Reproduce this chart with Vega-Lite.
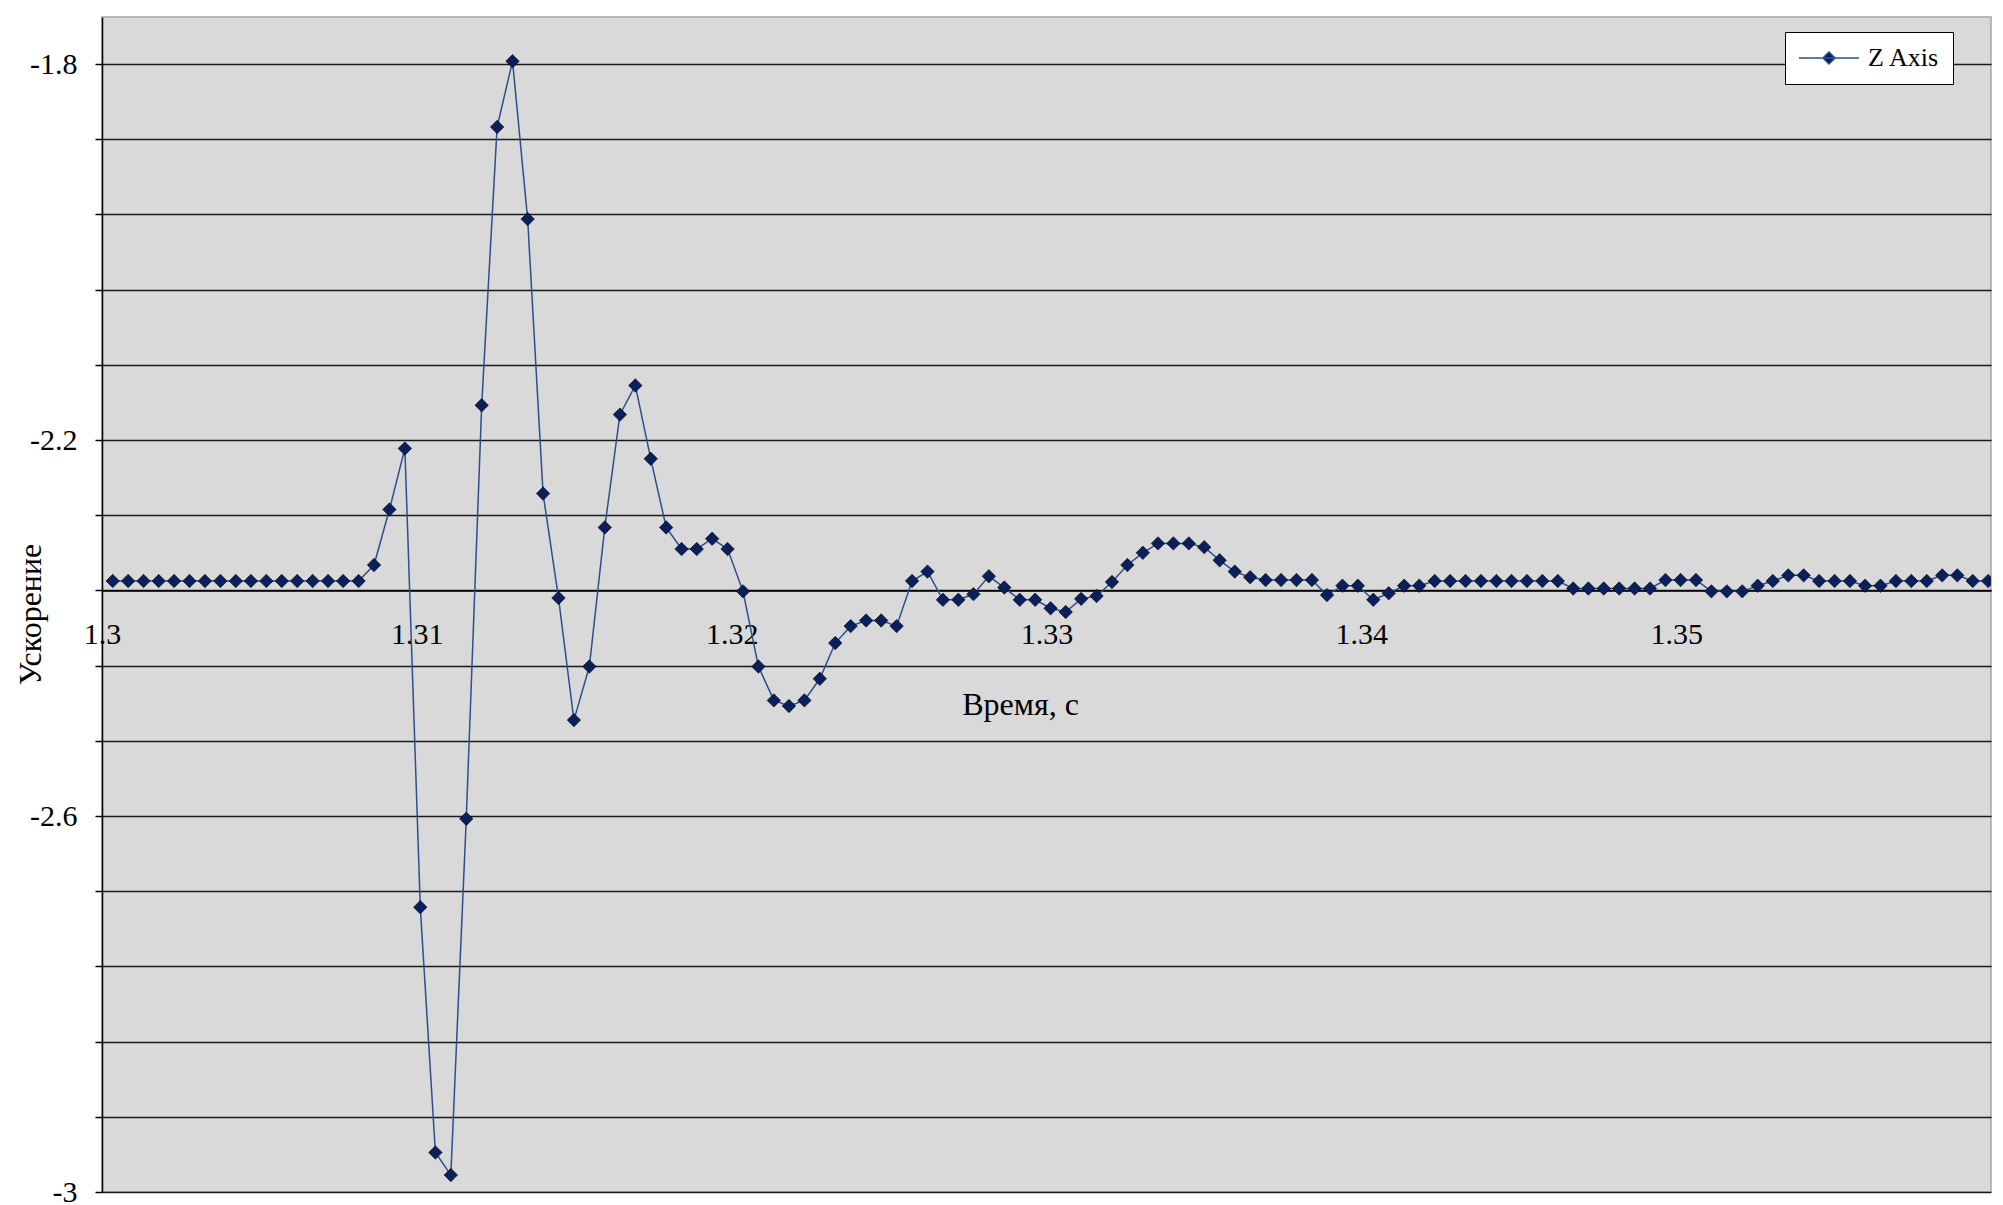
{
  "$schema": "https://vega.github.io/schema/vega-lite/v6.json",
  "width": 1889,
  "height": 1175,
  "autosize": {"type": "none"},
  "padding": {"left": 102, "top": 17, "right": 12, "bottom": 13},
  "background": "#ffffff",
  "config": {
    "view": {"fill": "#d9d9d9", "stroke": "#a6a6a6", "strokeWidth": 1.5},
    "font": "Liberation Serif"
  },
  "data": {
    "values": [
      {"t": 1.30034, "a": -2.35, "s": "Z Axis"},
      {"t": 1.30083, "a": -2.35, "s": "Z Axis"},
      {"t": 1.30132, "a": -2.35, "s": "Z Axis"},
      {"t": 1.3018, "a": -2.35, "s": "Z Axis"},
      {"t": 1.30229, "a": -2.35, "s": "Z Axis"},
      {"t": 1.30278, "a": -2.35, "s": "Z Axis"},
      {"t": 1.30327, "a": -2.35, "s": "Z Axis"},
      {"t": 1.30376, "a": -2.35, "s": "Z Axis"},
      {"t": 1.30425, "a": -2.35, "s": "Z Axis"},
      {"t": 1.30473, "a": -2.35, "s": "Z Axis"},
      {"t": 1.30522, "a": -2.35, "s": "Z Axis"},
      {"t": 1.30571, "a": -2.35, "s": "Z Axis"},
      {"t": 1.3062, "a": -2.35, "s": "Z Axis"},
      {"t": 1.30669, "a": -2.35, "s": "Z Axis"},
      {"t": 1.30718, "a": -2.35, "s": "Z Axis"},
      {"t": 1.30766, "a": -2.35, "s": "Z Axis"},
      {"t": 1.30815, "a": -2.35, "s": "Z Axis"},
      {"t": 1.30864, "a": -2.333, "s": "Z Axis"},
      {"t": 1.30913, "a": -2.274, "s": "Z Axis"},
      {"t": 1.30962, "a": -2.209, "s": "Z Axis"},
      {"t": 1.31011, "a": -2.697, "s": "Z Axis"},
      {"t": 1.31059, "a": -2.958, "s": "Z Axis"},
      {"t": 1.31108, "a": -2.982, "s": "Z Axis"},
      {"t": 1.31157, "a": -2.603, "s": "Z Axis"},
      {"t": 1.31206, "a": -2.163, "s": "Z Axis"},
      {"t": 1.31255, "a": -1.867, "s": "Z Axis"},
      {"t": 1.31304, "a": -1.797, "s": "Z Axis"},
      {"t": 1.31352, "a": -1.965, "s": "Z Axis"},
      {"t": 1.31401, "a": -2.257, "s": "Z Axis"},
      {"t": 1.3145, "a": -2.368, "s": "Z Axis"},
      {"t": 1.31499, "a": -2.498, "s": "Z Axis"},
      {"t": 1.31548, "a": -2.441, "s": "Z Axis"},
      {"t": 1.31597, "a": -2.293, "s": "Z Axis"},
      {"t": 1.31645, "a": -2.173, "s": "Z Axis"},
      {"t": 1.31694, "a": -2.142, "s": "Z Axis"},
      {"t": 1.31743, "a": -2.22, "s": "Z Axis"},
      {"t": 1.31792, "a": -2.293, "s": "Z Axis"},
      {"t": 1.31841, "a": -2.316, "s": "Z Axis"},
      {"t": 1.31889, "a": -2.316, "s": "Z Axis"},
      {"t": 1.31938, "a": -2.305, "s": "Z Axis"},
      {"t": 1.31987, "a": -2.316, "s": "Z Axis"},
      {"t": 1.32036, "a": -2.361, "s": "Z Axis"},
      {"t": 1.32085, "a": -2.441, "s": "Z Axis"},
      {"t": 1.32134, "a": -2.477, "s": "Z Axis"},
      {"t": 1.32182, "a": -2.483, "s": "Z Axis"},
      {"t": 1.32231, "a": -2.477, "s": "Z Axis"},
      {"t": 1.3228, "a": -2.454, "s": "Z Axis"},
      {"t": 1.32329, "a": -2.416, "s": "Z Axis"},
      {"t": 1.32378, "a": -2.398, "s": "Z Axis"},
      {"t": 1.32427, "a": -2.392, "s": "Z Axis"},
      {"t": 1.32475, "a": -2.392, "s": "Z Axis"},
      {"t": 1.32524, "a": -2.398, "s": "Z Axis"},
      {"t": 1.32573, "a": -2.35, "s": "Z Axis"},
      {"t": 1.32622, "a": -2.34, "s": "Z Axis"},
      {"t": 1.32671, "a": -2.37, "s": "Z Axis"},
      {"t": 1.3272, "a": -2.37, "s": "Z Axis"},
      {"t": 1.32768, "a": -2.364, "s": "Z Axis"},
      {"t": 1.32817, "a": -2.345, "s": "Z Axis"},
      {"t": 1.32866, "a": -2.357, "s": "Z Axis"},
      {"t": 1.32915, "a": -2.37, "s": "Z Axis"},
      {"t": 1.32964, "a": -2.37, "s": "Z Axis"},
      {"t": 1.33013, "a": -2.379, "s": "Z Axis"},
      {"t": 1.33061, "a": -2.383, "s": "Z Axis"},
      {"t": 1.3311, "a": -2.369, "s": "Z Axis"},
      {"t": 1.33159, "a": -2.366, "s": "Z Axis"},
      {"t": 1.33208, "a": -2.351, "s": "Z Axis"},
      {"t": 1.33257, "a": -2.333, "s": "Z Axis"},
      {"t": 1.33306, "a": -2.32, "s": "Z Axis"},
      {"t": 1.33354, "a": -2.31, "s": "Z Axis"},
      {"t": 1.33403, "a": -2.31, "s": "Z Axis"},
      {"t": 1.33452, "a": -2.31, "s": "Z Axis"},
      {"t": 1.33501, "a": -2.314, "s": "Z Axis"},
      {"t": 1.3355, "a": -2.328, "s": "Z Axis"},
      {"t": 1.33598, "a": -2.34, "s": "Z Axis"},
      {"t": 1.33647, "a": -2.346, "s": "Z Axis"},
      {"t": 1.33696, "a": -2.349, "s": "Z Axis"},
      {"t": 1.33745, "a": -2.349, "s": "Z Axis"},
      {"t": 1.33794, "a": -2.349, "s": "Z Axis"},
      {"t": 1.33843, "a": -2.349, "s": "Z Axis"},
      {"t": 1.33891, "a": -2.365, "s": "Z Axis"},
      {"t": 1.3394, "a": -2.355, "s": "Z Axis"},
      {"t": 1.33989, "a": -2.355, "s": "Z Axis"},
      {"t": 1.34038, "a": -2.37, "s": "Z Axis"},
      {"t": 1.34087, "a": -2.363, "s": "Z Axis"},
      {"t": 1.34136, "a": -2.355, "s": "Z Axis"},
      {"t": 1.34184, "a": -2.355, "s": "Z Axis"},
      {"t": 1.34233, "a": -2.35, "s": "Z Axis"},
      {"t": 1.34282, "a": -2.35, "s": "Z Axis"},
      {"t": 1.34331, "a": -2.35, "s": "Z Axis"},
      {"t": 1.3438, "a": -2.35, "s": "Z Axis"},
      {"t": 1.34429, "a": -2.35, "s": "Z Axis"},
      {"t": 1.34477, "a": -2.35, "s": "Z Axis"},
      {"t": 1.34526, "a": -2.35, "s": "Z Axis"},
      {"t": 1.34575, "a": -2.35, "s": "Z Axis"},
      {"t": 1.34624, "a": -2.35, "s": "Z Axis"},
      {"t": 1.34673, "a": -2.358, "s": "Z Axis"},
      {"t": 1.34721, "a": -2.358, "s": "Z Axis"},
      {"t": 1.3477, "a": -2.358, "s": "Z Axis"},
      {"t": 1.34819, "a": -2.358, "s": "Z Axis"},
      {"t": 1.34868, "a": -2.358, "s": "Z Axis"},
      {"t": 1.34917, "a": -2.358, "s": "Z Axis"},
      {"t": 1.34966, "a": -2.349, "s": "Z Axis"},
      {"t": 1.35014, "a": -2.349, "s": "Z Axis"},
      {"t": 1.35063, "a": -2.349, "s": "Z Axis"},
      {"t": 1.35112, "a": -2.361, "s": "Z Axis"},
      {"t": 1.35161, "a": -2.361, "s": "Z Axis"},
      {"t": 1.3521, "a": -2.361, "s": "Z Axis"},
      {"t": 1.35259, "a": -2.355, "s": "Z Axis"},
      {"t": 1.35307, "a": -2.35, "s": "Z Axis"},
      {"t": 1.35356, "a": -2.344, "s": "Z Axis"},
      {"t": 1.35405, "a": -2.344, "s": "Z Axis"},
      {"t": 1.35454, "a": -2.35, "s": "Z Axis"},
      {"t": 1.35503, "a": -2.35, "s": "Z Axis"},
      {"t": 1.35552, "a": -2.35, "s": "Z Axis"},
      {"t": 1.356, "a": -2.355, "s": "Z Axis"},
      {"t": 1.35649, "a": -2.355, "s": "Z Axis"},
      {"t": 1.35698, "a": -2.35, "s": "Z Axis"},
      {"t": 1.35747, "a": -2.35, "s": "Z Axis"},
      {"t": 1.35796, "a": -2.35, "s": "Z Axis"},
      {"t": 1.35845, "a": -2.344, "s": "Z Axis"},
      {"t": 1.35893, "a": -2.344, "s": "Z Axis"},
      {"t": 1.35942, "a": -2.35, "s": "Z Axis"},
      {"t": 1.35991, "a": -2.35, "s": "Z Axis"},
      {"t": 1.3604, "a": -2.35, "s": "Z Axis"}
    ]
  },
  "layer": [
    {
      "mark": {"type": "line", "clip": true, "strokeWidth": 1.5},
      "encoding": {
        "x": {
          "field": "t",
          "type": "quantitative",
          "scale": {"domain": [1.3, 1.36], "nice": false, "zero": false},
          "axis": {
            "values": [1.3, 1.31, 1.32, 1.33, 1.34, 1.35],
            "format": ".2~f",
            "offset": -601.6,
            "grid": false,
            "ticks": false,
            "tickSize": 0,
            "domain": true,
            "domainColor": "#000000",
            "domainWidth": 1.5,
            "labelFont": "Liberation Serif",
            "labelFontSize": 30,
            "labelColor": "#000000",
            "labelPadding": 29,
            "labelFlush": false,
            "labelOverlap": false,
            "title": "Время, с",
            "titleFont": "Liberation Serif",
            "titleFontSize": 32,
            "titleFontWeight": "normal",
            "titleColor": "#000000",
            "titleX": 918,
            "titleY": 124,
            "titleAlign": "center",
            "titleBaseline": "alphabetic"
          }
        },
        "y": {
          "field": "a",
          "type": "quantitative",
          "scale": {"domain": [-3, -1.75], "nice": false, "zero": false},
          "axis": {
            "values": [-3, -2.92, -2.84, -2.76, -2.68, -2.6, -2.52, -2.44, -2.36, -2.28, -2.2, -2.12, -2.04, -1.96, -1.88, -1.8],
            "labelExpr": "indexof(['-3','-2.6','-2.2','-1.8'], toString(datum.value)) >= 0 ? toString(datum.value) : ''",
            "grid": true,
            "gridColor": "#1a1a1a",
            "gridWidth": 1.5,
            "ticks": true,
            "tickSize": 7,
            "tickColor": "#000000",
            "tickWidth": 1.5,
            "domainColor": "#000000",
            "domainWidth": 1.5,
            "labelFont": "Liberation Serif",
            "labelFontSize": 30,
            "labelColor": "#000000",
            "labelPadding": 18,
            "labelFlush": false,
            "labelOverlap": false,
            "title": "Ускорение",
            "titleFont": "Liberation Serif",
            "titleFontSize": 32,
            "titleFontWeight": "normal",
            "titleColor": "#000000",
            "titleX": -72,
            "titleY": 597,
            "titleAngle": -90,
            "titleAlign": "center",
            "titleBaseline": "middle"
          }
        },
        "color": {
          "field": "s",
          "type": "nominal",
          "scale": {"range": ["#2e4e8f"]},
          "legend": {
            "orient": "none",
            "legendX": 1683,
            "legendY": 15,
            "title": null,
            "direction": "vertical",
            "fillColor": "#ffffff",
            "strokeColor": "#000000",
            "padding": 13,
            "symbolType": "M-4.9,0L4.9,0M0,-1L1,0L0,1L-1,0Z",
            "symbolSize": 150,
            "symbolStrokeWidth": 1.4,
            "symbolOffset": 18,
            "labelOffset": 26,
            "labelFont": "Liberation Serif",
            "labelFontSize": 26,
            "labelColor": "#000000",
            "encode": {
              "symbols": {
                "update": {
                  "fill": {"value": "#0a1f5c"},
                  "stroke": {"value": "#2e4e8f"},
                  "opacity": {"value": 1}
                }
              }
            }
          }
        }
      }
    },
    {
      "mark": {"type": "point", "shape": "diamond", "filled": true, "size": 180, "fill": "#0a1f5c", "stroke": "#000000", "strokeWidth": 0.6, "opacity": 1, "clip": true},
      "encoding": {
        "x": {"field": "t", "type": "quantitative"},
        "y": {"field": "a", "type": "quantitative"}
      }
    }
  ]
}
